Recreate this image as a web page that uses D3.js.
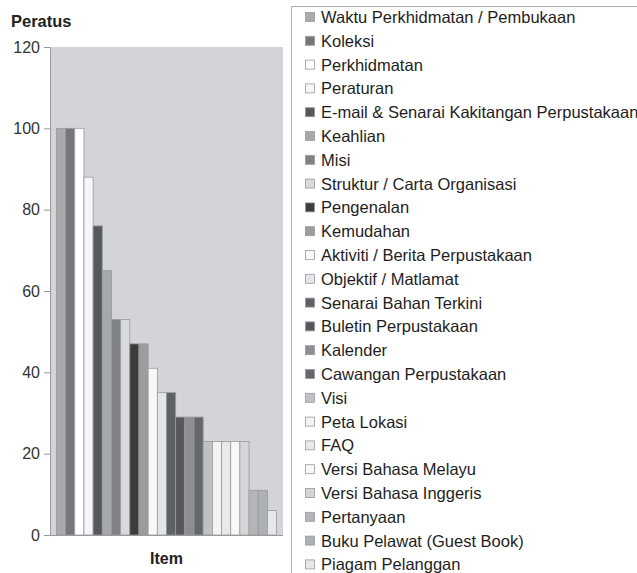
<!DOCTYPE html>
<html>
<head>
<meta charset="utf-8">
<script src="https://cdn.jsdelivr.net/npm/d3@7"></script>
<style>
  body { margin: 0; background: #fff; }
  svg { display: block; font-family: "Liberation Sans", Arial, sans-serif; }
</style>
</head>
<body>
<svg id="chart" width="637" height="573"></svg>
<script>
// legend order = bar order
var items = [
    "Waktu Perkhidmatan / Pembukaan", "Koleksi", "Perkhidmatan", "Peraturan",
    "E-mail & Senarai Kakitangan Perpustakaan", "Keahlian", "Misi",
    "Struktur / Carta Organisasi", "Pengenalan", "Kemudahan",
    "Aktiviti / Berita Perpustakaan", "Objektif / Matlamat",
    "Senarai Bahan Terkini", "Buletin Perpustakaan", "Kalender",
    "Cawangan Perpustakaan", "Visi", "Peta Lokasi", "FAQ",
    "Versi Bahasa Melayu", "Versi Bahasa Inggeris", "Pertanyaan",
    "Buku Pelawat (Guest Book)", "Piagam Pelanggan"
];
var values = [100, 100, 100, 88, 76, 65, 53, 53, 47, 47, 41, 35, 35, 29, 29, 29, 23, 23, 23, 23, 23, 11, 11, 6];
var colors = [
    "#a9a9ae", "#77777b", "#ffffff", "#f4f6f8", "#55595d", "#a6a8ab",
    "#808285", "#d8dbde", "#3d3d3f", "#9c9c9e", "#f8f8fb", "#e4e5e8",
    "#5e6165", "#55585c", "#8c8e91", "#65686b", "#bfc2c5", "#f3f4f5",
    "#e8e9eb", "#f8f8fa", "#d3d5d7", "#b3b5b8", "#aeb1b4", "#e6e7e9"
];
var yTicks = [0, 20, 40, 60, 80, 100, 120];

var plot = {left: 50, right: 283, top: 47, bottom: 535};
var svg = d3.select("#chart");

var x = d3.scaleBand()
    .domain(items)
    .range([plot.left, plot.right])
    .paddingInner(0)
    .paddingOuter(0.7);

var y = d3.scaleLinear()
    .domain([0, 120])
    .range([plot.bottom, plot.top]);

// plot area background
svg.append("rect")
    .attr("x", plot.left)
    .attr("y", plot.top)
    .attr("width", plot.right - plot.left)
    .attr("height", plot.bottom - plot.top)
    .attr("fill", "#d2d4d7");

// bars
svg.selectAll(".bar")
    .data(items)
    .enter().append("rect")
    .attr("class", "bar")
    .attr("x", function(d) { return x(d); })
    .attr("y", function(d, i) { return y(values[i]); })
    .attr("width", x.bandwidth())
    .attr("height", function(d, i) { return y(0) - y(values[i]); })
    .attr("fill", function(d, i) { return colors[i]; })
    .attr("stroke", "#9a9a9e")
    .attr("stroke-width", 0.8);

// y axis
var yAxis = svg.append("g")
    .attr("transform", "translate(" + plot.left + ",0)")
    .call(d3.axisLeft(y).tickValues(yTicks).tickSize(6).tickPadding(4));
yAxis.select(".domain").attr("stroke", "#9a9a9a");
yAxis.selectAll(".tick line").attr("stroke", "#9a9a9a");
yAxis.selectAll(".tick text")
    .attr("fill", "#333")
    .style("font-size", "16px")
    .style("font-family", "'Liberation Sans', Arial, sans-serif");

// x axis baseline
svg.append("line")
    .attr("x1", plot.left).attr("x2", plot.right)
    .attr("y1", plot.bottom + 0.5).attr("y2", plot.bottom + 0.5)
    .attr("stroke", "#9a9a9a");

// titles
svg.append("text")
    .attr("x", 11).attr("y", 27)
    .attr("font-weight", "bold")
    .attr("font-size", 16.5)
    .attr("fill", "#222")
    .text("Peratus");

svg.append("text")
    .attr("x", (plot.left + plot.right) / 2).attr("y", 564)
    .attr("text-anchor", "middle")
    .attr("font-weight", "bold")
    .attr("font-size", 16)
    .attr("fill", "#222")
    .text("Item");

// legend
svg.append("rect")
    .attr("x", 291.5).attr("y", 6.5)
    .attr("width", 360).attr("height", 580)
    .attr("fill", "#fff")
    .attr("stroke", "#b0b0b0");

var leg = svg.selectAll(".legend")
    .data(items)
    .enter().append("g")
    .attr("class", "legend")
    .attr("transform", function(d, i) { return "translate(305," + (17 + i * 23.8) + ")"; });

leg.append("rect")
    .attr("x", 0.5).attr("y", -4.5)
    .attr("width", 9).attr("height", 9)
    .attr("fill", function(d, i) { return colors[i]; })
    .attr("stroke", "#9a9a9e")
    .attr("stroke-width", 0.8);

leg.append("text")
    .attr("x", 16)
    .attr("dy", "0.36em")
    .attr("font-size", 16.5)
    .attr("fill", "#1e1e1e")
    .text(function(d) { return d; });
</script>
</body>
</html>
